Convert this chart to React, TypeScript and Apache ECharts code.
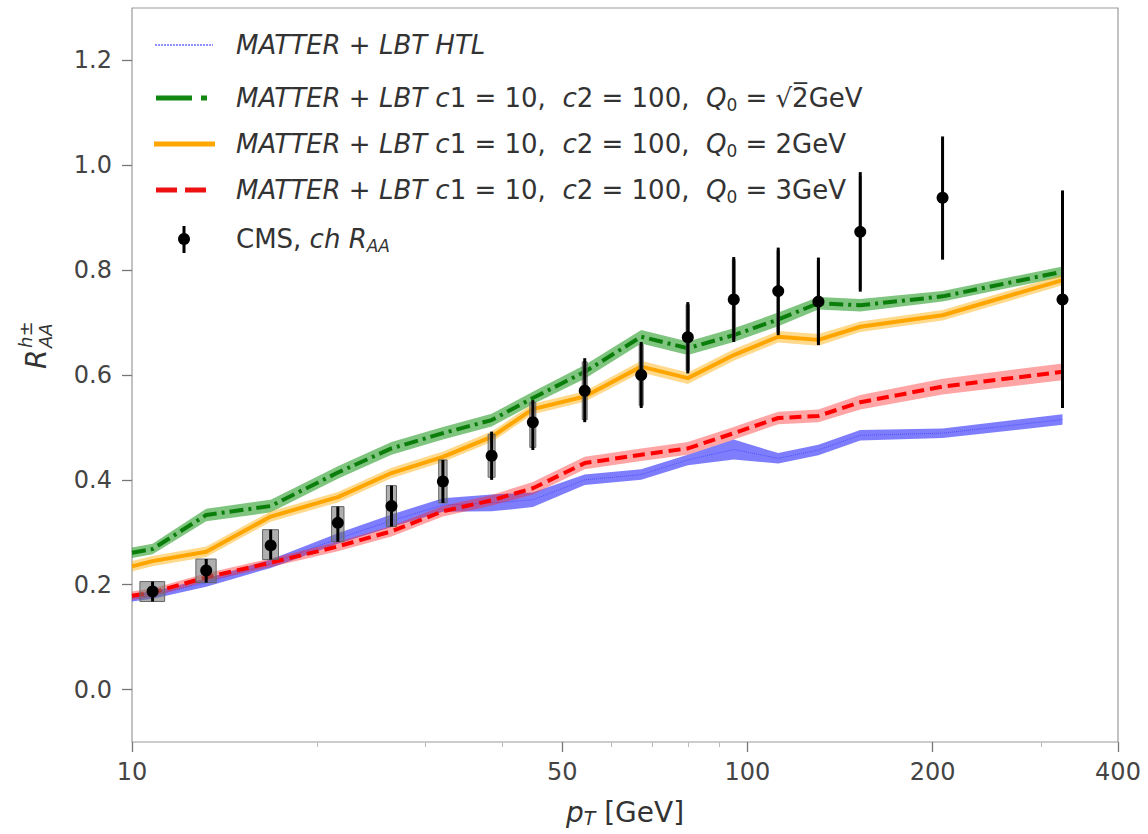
import React, { useEffect, useRef } from 'react';
import * as echarts from 'echarts';

// ---------- data ----------
const ptTheory = [10, 10.8, 13.2, 16.8, 21.6, 26.4, 32.0, 38.4, 44.8, 54.4, 67.2, 80.0, 95.0, 112.2, 130.4, 152.5, 207.5, 325];

const htlMid = [0.175, 0.180, 0.204, 0.240, 0.288, 0.322, 0.352, 0.356, 0.362, 0.400, 0.410, 0.438, 0.458, 0.441, 0.457, 0.485, 0.489, 0.515];
const htlHalf = [0.007, 0.007, 0.008, 0.008, 0.010, 0.012, 0.013, 0.016, 0.014, 0.010, 0.010, 0.010, 0.019, 0.010, 0.010, 0.010, 0.009, 0.010];

const q2Mid = [0.261, 0.268, 0.333, 0.350, 0.414, 0.460, 0.489, 0.514, 0.556, 0.606, 0.673, 0.651, 0.676, 0.706, 0.737, 0.733, 0.750, 0.797];
const q2Half = [0.010, 0.010, 0.012, 0.012, 0.012, 0.012, 0.012, 0.012, 0.012, 0.013, 0.013, 0.013, 0.013, 0.013, 0.012, 0.012, 0.010, 0.010];

const q20Mid = [0.235, 0.245, 0.263, 0.330, 0.367, 0.413, 0.444, 0.482, 0.535, 0.559, 0.616, 0.594, 0.638, 0.673, 0.667, 0.692, 0.714, 0.781];
const q20Half = [0.010, 0.010, 0.010, 0.010, 0.010, 0.010, 0.010, 0.010, 0.010, 0.010, 0.011, 0.011, 0.011, 0.011, 0.011, 0.010, 0.010, 0.010];

const q30Mid = [0.179, 0.185, 0.214, 0.242, 0.273, 0.302, 0.340, 0.361, 0.384, 0.432, 0.448, 0.460, 0.489, 0.518, 0.522, 0.548, 0.578, 0.606];
const q30Half = [0.008, 0.008, 0.008, 0.008, 0.009, 0.010, 0.010, 0.010, 0.012, 0.012, 0.012, 0.012, 0.012, 0.012, 0.012, 0.014, 0.015, 0.016];

const cmsPt = [10.8, 13.2, 16.8, 21.6, 26.4, 32.0, 38.4, 44.8, 54.4, 67.2, 80.0, 95.0, 112.2, 130.4, 152.5, 207.5, 325];
const cmsR = [0.187, 0.227, 0.275, 0.318, 0.350, 0.397, 0.446, 0.510, 0.570, 0.600, 0.672, 0.744, 0.760, 0.740, 0.873, 0.938, 0.744];
const cmsLow = [0.168, 0.204, 0.248, 0.282, 0.311, 0.356, 0.400, 0.457, 0.510, 0.537, 0.603, 0.663, 0.676, 0.657, 0.759, 0.820, 0.537];
const cmsHigh = [0.206, 0.249, 0.305, 0.349, 0.389, 0.438, 0.492, 0.552, 0.632, 0.663, 0.739, 0.825, 0.843, 0.824, 0.987, 1.055, 0.952];
const cmsSysLow = [0.168, 0.204, 0.248, 0.282, 0.311, 0.356, 0.405, 0.462, 0.515, 0.542, 0.608, 0.668, 0.681, 0.662, 0.764, 0.825, 0.545];
const cmsSysHigh = [0.206, 0.249, 0.305, 0.349, 0.389, 0.438, 0.487, 0.548, 0.625, 0.658, 0.734, 0.820, 0.838, 0.818, 0.980, 1.050, 0.945];
const cmsSysHalfWidthGeV = 0.5;

const xTickValues = [10, 50, 100, 200, 400];
const xMinorTickValues = [20, 30, 40, 60, 70, 80, 90, 300];
const yTickValues = [0.0, 0.2, 0.4, 0.6, 0.8, 1.0, 1.2];

// ---------- helpers ----------
const FONT = 'DejaVu Sans';
const X_MIN = 10;
const X_MAX = 400;

function band(mid: number[], half: number[], fill: string, z: number) {
  return {
    type: 'custom',
    coordinateSystem: 'cartesian2d',
    xAxisIndex: 0,
    yAxisIndex: 0,
    silent: true,
    z,
    data: [[100, 0.5]],
    renderItem: (_p: any, api: any) => {
      const up = ptTheory.map((x, i) => api.coord([x, mid[i] + half[i]]));
      const lo = ptTheory.map((x, i) => api.coord([x, mid[i] - half[i]])).reverse();
      return { type: 'polygon', shape: { points: up.concat(lo) }, style: { fill } };
    },
  };
}

function line(mid: number[], color: string, width: number, type: any, z: number) {
  return {
    type: 'line',
    xAxisIndex: 0,
    yAxisIndex: 0,
    silent: true,
    z,
    showSymbol: false,
    symbol: 'none',
    data: ptTheory.map((x, i) => [x, mid[i]]),
    lineStyle: { color, width, type, cap: 'butt' },
  };
}

const rich = {
  i: { fontFamily: FONT, fontStyle: 'italic', fontSize: 26, fill: '#333' },
  n: { fontFamily: FONT, fontSize: 26, fill: '#333' },
  s: { fontFamily: FONT, fontSize: 17, fill: '#333', padding: [13, 0, 0, 0] },
  si: { fontFamily: FONT, fontStyle: 'italic', fontSize: 17, fill: '#333', padding: [13, 0, 0, 0] },
};

const mlbt = '{i|MATTER}{n| + }{i|LBT c}{n|1 = 10,  }{i|c}{n|2 = 100,  }{i|Q}{s|0}';
const legendRows = [
  '{i|MATTER}{n| + }{i|LBT HTL}',
  mlbt + '{n| = √2̅GeV}',
  mlbt + '{n| = 2GeV}',
  mlbt + '{n| = 3GeV}',
  '{n|CMS, }{i|ch R}{si|AA}',
];
const legendY = [45, 98, 144, 190, 239];

function buildGraphic() {
  const g: any[] = [];
  // legend samples
  g.push({ type: 'line', shape: { x1: 155, y1: legendY[0], x2: 213, y2: legendY[0] }, style: { stroke: '#6b6bff', lineWidth: 1.5, lineDash: [2, 1] }, silent: true });
  g.push({ type: 'line', shape: { x1: 156, y1: legendY[1], x2: 207, y2: legendY[1] }, style: { stroke: '#118811', lineWidth: 5, lineDash: [36, 9, 6, 100] }, silent: true });
  g.push({ type: 'line', shape: { x1: 154, y1: legendY[2], x2: 215, y2: legendY[2] }, style: { stroke: '#ffa500', lineWidth: 5 }, silent: true });
  g.push({ type: 'line', shape: { x1: 156, y1: legendY[3], x2: 207, y2: legendY[3] }, style: { stroke: '#ee1111', lineWidth: 5, lineDash: [21, 8] }, silent: true });
  g.push({ type: 'line', shape: { x1: 184, y1: legendY[4] - 13, x2: 184, y2: legendY[4] + 14 }, style: { stroke: '#000', lineWidth: 3 }, silent: true });
  g.push({ type: 'circle', shape: { cx: 184, cy: legendY[4], r: 6 }, style: { fill: '#000' }, silent: true });
  legendRows.forEach((t, k) => {
    g.push({
      type: 'text', x: 236, y: legendY[k], silent: true,
      style: { text: t, rich, verticalAlign: 'middle', align: 'left' },
    });
  });
  // y-axis title (rotated)
  g.push({
    type: 'group', x: 36, y: 345, rotation: Math.PI / 2, silent: true,
    children: [
      { type: 'text', x: -24, y: 0, style: { text: 'R', fontFamily: FONT, fontStyle: 'italic', fontSize: 28, fill: '#333', verticalAlign: 'middle', align: 'left' } },
      { type: 'text', x: -3, y: -11, style: { text: 'h±', fontFamily: FONT, fontStyle: 'italic', fontSize: 18, fill: '#333', verticalAlign: 'middle', align: 'left' } },
      { type: 'text', x: -3, y: 9, style: { text: 'AA', fontFamily: FONT, fontStyle: 'italic', fontSize: 18, fill: '#333', verticalAlign: 'middle', align: 'left' } },
    ],
  });
  // x-axis title
  g.push({
    type: 'text', x: 625, y: 812, silent: true,
    style: {
      text: '{p|p}{t|T}{g| [GeV]}',
      align: 'center', verticalAlign: 'middle',
      rich: {
        p: { fontFamily: FONT, fontStyle: 'italic', fontSize: 28, fill: '#333' },
        t: { fontFamily: FONT, fontStyle: 'italic', fontSize: 19, fill: '#333', padding: [12, 0, 0, 0] },
        g: { fontFamily: FONT, fontSize: 28, fill: '#333' },
      },
    },
  });
  return g;
}

function buildOption() {
  const lg = (v: number) => Math.log10(v);
  return {
    animation: false,
    backgroundColor: '#fff',
    grid: { left: 132, right: 30, top: 8, bottom: 92, show: true, borderColor: '#9a9a9a', borderWidth: 1.2, backgroundColor: 'transparent' },
    xAxis: [
      { type: 'log', logBase: 10, min: X_MIN, max: X_MAX, axisLine: { show: false }, axisTick: { show: false }, axisLabel: { show: false }, splitLine: { show: false } },
      {
        type: 'value', min: lg(X_MIN), max: lg(X_MAX), position: 'bottom',
        axisLine: { show: false }, splitLine: { show: false },
        axisTick: { show: true, inside: false, length: 10, lineStyle: { color: '#777', width: 1.3 }, customValues: xTickValues.map(lg) },
        axisLabel: { show: true, margin: 18, fontFamily: FONT, fontSize: 24, color: '#444', customValues: xTickValues.map(lg), formatter: (v: number) => String(Math.round(Math.pow(10, v))) },
      },
      {
        type: 'value', min: lg(X_MIN), max: lg(X_MAX), position: 'bottom',
        axisLine: { show: false }, splitLine: { show: false },
        axisTick: { show: true, inside: false, length: 5, lineStyle: { color: '#bbb', width: 1 }, customValues: xMinorTickValues.map(lg) },
        axisLabel: { show: false },
      },
    ],
    yAxis: [{
      type: 'value', min: -0.1, max: 1.3,
      axisLine: { show: false }, splitLine: { show: false },
      axisTick: { show: true, inside: false, length: 10, lineStyle: { color: '#777', width: 1.3 }, customValues: yTickValues },
      axisLabel: { margin: 20, fontFamily: FONT, fontSize: 24, color: '#444', customValues: yTickValues, formatter: (v: number) => v.toFixed(1) },
    }],
    graphic: buildGraphic(),
    series: [
      band(htlMid, htlHalf, 'rgba(20,20,250,0.55)', 2),
      line(htlMid, 'rgba(60,60,255,0.7)', 1, 'dotted', 2),
      band(q2Mid, q2Half, 'rgba(0,140,0,0.5)', 3),
      line(q2Mid, '#0b7d0b', 4, [14, 5, 3, 5], 3),
      band(q20Mid, q20Half, 'rgba(255,170,0,0.45)', 4),
      line(q20Mid, '#ffa500', 4, 'solid', 4),
      band(q30Mid, q30Half, 'rgba(255,30,30,0.4)', 5),
      line(q30Mid, '#ff0000', 4, [12, 6], 5),
      {
        type: 'custom', coordinateSystem: 'cartesian2d', xAxisIndex: 0, yAxisIndex: 0, silent: true, z: 6,
        data: cmsPt.map((x, i) => [x, cmsSysLow[i], cmsSysHigh[i]]),
        encode: { x: 0, y: [1, 2] },
        renderItem: (_p: any, api: any) => {
          const x = api.value(0);
          const a = api.coord([x - cmsSysHalfWidthGeV, api.value(2)]);
          const b = api.coord([x + cmsSysHalfWidthGeV, api.value(1)]);
          return { type: 'rect', shape: { x: a[0], y: a[1], width: b[0] - a[0], height: b[1] - a[1] }, style: { fill: 'rgba(110,110,110,0.55)', stroke: '#666', lineWidth: 1 } };
        },
      },
      {
        type: 'custom', coordinateSystem: 'cartesian2d', xAxisIndex: 0, yAxisIndex: 0, silent: true, z: 7,
        data: cmsPt.map((x, i) => [x, cmsLow[i], cmsHigh[i]]),
        encode: { x: 0, y: [1, 2] },
        renderItem: (_p: any, api: any) => {
          const x = api.value(0);
          const a = api.coord([x, api.value(2)]);
          const b = api.coord([x, api.value(1)]);
          return { type: 'line', shape: { x1: a[0], y1: a[1], x2: b[0], y2: b[1] }, style: { stroke: '#000', lineWidth: 3 } };
        },
      },
      {
        type: 'scatter', xAxisIndex: 0, yAxisIndex: 0, silent: true, z: 8,
        symbol: 'circle', symbolSize: 12,
        itemStyle: { color: '#000', opacity: 1 },
        data: cmsPt.map((x, i) => [x, cmsR[i]]),
      },
    ],
  };
}

export default function App() {
  const ref = useRef<HTMLDivElement>(null);
  useEffect(() => {
    document.body.style.margin = '0';
    const chart = echarts.init(ref.current as HTMLDivElement, null, { renderer: 'svg' });
    chart.setOption(buildOption() as any);
    return () => chart.dispose();
  }, []);
  return <div ref={ref} style={{ width: 1148, height: 834 }} />;
}
